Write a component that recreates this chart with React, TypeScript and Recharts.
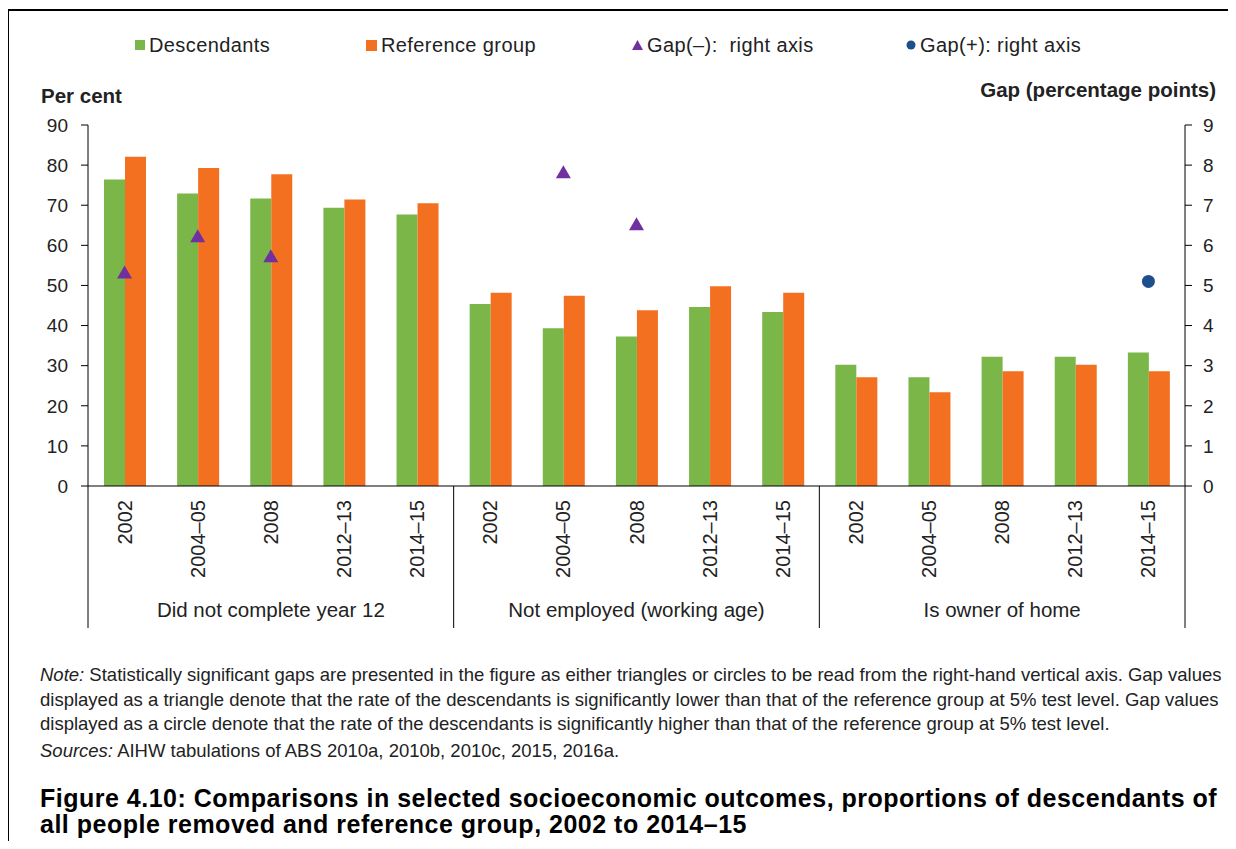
import { ComposedChart, Bar, Scatter, XAxis, YAxis } from 'recharts';

const groups = ['Did not complete year 12', 'Not employed (working age)', 'Is owner of home'];
const years = ['2002', '2004–05', '2008', '2012–13', '2014–15'];

// per cent, in order group by group, year by year
const descendants = [76.4, 72.9, 71.7, 69.4, 67.7, 45.4, 39.3, 37.3, 44.6, 43.4, 30.2, 27.1, 32.2, 32.2, 33.3];
const referenceGroup = [82.1, 79.3, 77.7, 71.4, 70.5, 48.2, 47.4, 43.8, 49.8, 48.2, 27.1, 23.4, 28.6, 30.2, 28.6];

// percentage points, right axis
const gapMinus = [5.3, 6.2, 5.7, null, null, null, 7.8, 6.5, null, null, null, null, null, null, null];
const gapPlus = [null, null, null, null, null, null, null, null, null, null, null, null, null, null, 5.1];

const leftTicks = [0, 10, 20, 30, 40, 50, 60, 70, 80, 90];
const rightTicks = [0, 1, 2, 3, 4, 5, 6, 7, 8, 9];

const data = groups.flatMap((group, gi) =>
  years.map((year, yi) => {
    const i = gi * years.length + yi;
    return {
      key: `${group}|${year}`,
      descendants: descendants[i],
      reference: referenceGroup[i],
      gapMinus: gapMinus[i],
      gapPlus: gapPlus[i]
    };
  })
);

const GREEN = '#7AB648';
const ORANGE = '#F37021';
const PURPLE = '#7030A0';
const NAVY = '#1F4E8C';
const TEXT = '#222';
const FONT = '"Liberation Sans", Arial, sans-serif';

const CategoryTick = (props: any) => {
  const { x, y, payload, index } = props;
  const half = payload?.offset || 36.5;
  const [group, year] = String(payload.value).split('|');
  const pos = index % years.length;
  return (
    <g>
      <text
        transform={`translate(${x + 7},${y + 14}) rotate(-90)`}
        textAnchor="end"
        fontSize={20}
        fill={TEXT}
        fontFamily={FONT}
      >
        {year}
      </text>
      {pos === 0 && <line x1={x - half} x2={x - half} y1={y} y2={y + 142} stroke="#000" />}
      {index === data.length - 1 && <line x1={x + half} x2={x + half} y1={y} y2={y + 142} stroke="#000" />}
      {pos === 2 && (
        <text x={x} y={y + 131} textAnchor="middle" fontSize={20.5} fill={TEXT} fontFamily={FONT}>
          {group}
        </text>
      )}
    </g>
  );
};

const Triangle = (props: any) => {
  const { cx, cy, payload } = props;
  if (payload?.gapMinus == null || cx == null || cy == null) return <g />;
  return <polygon points={`${cx},${cy - 8} ${cx - 7.5},${cy + 5} ${cx + 7.5},${cy + 5}`} fill={PURPLE} />;
};

const Dot = (props: any) => {
  const { cx, cy, payload } = props;
  if (payload?.gapPlus == null || cx == null || cy == null) return <g />;
  return <circle cx={cx} cy={cy} r={6.5} fill={NAVY} />;
};

const legendItems = [
  { label: 'Descendants', left: 135, mark: <span style={{ display: 'inline-block', width: 10, height: 10, background: GREEN }} /> },
  { label: 'Reference group', left: 366, mark: <span style={{ display: 'inline-block', width: 11, height: 11, background: ORANGE }} /> },
  {
    label: 'Gap(–):  right axis',
    left: 632,
    mark: (
      <svg width={11} height={10}>
        <polygon points="5.5,0 0,10 11,10" fill={PURPLE} />
      </svg>
    )
  },
  {
    label: 'Gap(+): right axis',
    left: 906,
    mark: (
      <svg width={10} height={10}>
        <circle cx={5} cy={5} r={4.5} fill={NAVY} />
      </svg>
    )
  }
];

export default function App() {
  return (
    <div
      style={{
        position: 'relative',
        width: 1236,
        height: 849,
        margin: -8,
        background: '#fff',
        overflow: 'hidden',
        fontFamily: FONT,
        color: TEXT
      }}
    >
      <div style={{ position: 'absolute', left: 7, top: 9, right: 0, height: 2, background: '#000' }} />
      <div style={{ position: 'absolute', left: 7, top: 9, bottom: 0, width: 2, background: '#000' }} />

      {legendItems.map((item) => (
        <div
          key={item.label}
          style={{
            position: 'absolute',
            left: item.left,
            top: 33,
            height: 24,
            display: 'flex',
            alignItems: 'center',
            gap: 4,
            fontSize: 20,
            letterSpacing: 0.4,
            whiteSpace: 'pre'
          }}
        >
          {item.mark}
          <span>{item.label}</span>
        </div>
      ))}

      <div style={{ position: 'absolute', left: 41, top: 84, fontSize: 20.5, fontWeight: 'bold' }}>Per cent</div>
      <div style={{ position: 'absolute', right: 20, top: 78, fontSize: 20.5, fontWeight: 'bold' }}>
        Gap (percentage points)
      </div>

      <div style={{ position: 'absolute', left: 0, top: 0 }}>
        <ComposedChart
          width={1236}
          height={650}
          data={data}
          margin={{ top: 125, right: 1, bottom: 0, left: 38 }}
          barGap={0}
        >
          <XAxis
            dataKey="key"
            type="category"
            interval={0}
            height={164}
            tickLine={false}
            tickSize={0}
            tickMargin={0}
            axisLine={{ stroke: '#000' }}
            tick={<CategoryTick />}
          />
          <YAxis
            yAxisId="left"
            domain={[0, 90]}
            ticks={leftTicks}
            width={50}
            tickSize={7}
            tickMargin={13}
            axisLine={{ stroke: '#000' }}
            tickLine={{ stroke: '#000' }}
            tick={{ fontSize: 19, fill: TEXT, fontFamily: FONT }}
          />
          <YAxis
            yAxisId="right"
            orientation="right"
            domain={[0, 9]}
            ticks={rightTicks}
            width={50}
            tickSize={7}
            tickMargin={11}
            axisLine={{ stroke: '#000' }}
            tickLine={{ stroke: '#000' }}
            tick={{ fontSize: 19, fill: TEXT, fontFamily: FONT }}
          />
          <Bar yAxisId="left" dataKey="descendants" fill={GREEN} barSize={21} isAnimationActive={false} />
          <Bar yAxisId="left" dataKey="reference" fill={ORANGE} barSize={21} isAnimationActive={false} />
          <Scatter yAxisId="right" dataKey="gapMinus" shape={<Triangle />} isAnimationActive={false} />
          <Scatter yAxisId="right" dataKey="gapPlus" shape={<Dot />} isAnimationActive={false} />
        </ComposedChart>
      </div>

      <div
        style={{
          position: 'absolute',
          left: 40,
          top: 663,
          fontSize: 18.5,
          lineHeight: '24.5px',
          whiteSpace: 'nowrap'
        }}
      >
        <div>
          <i>Note:</i> Statistically significant gaps are presented in the figure as either triangles or circles to be
          read from the right-hand vertical axis. Gap values
        </div>
        <div>
          displayed as a triangle denote that the rate of the descendants is significantly lower than that of the
          reference group at 5% test level. Gap values
        </div>
        <div>
          displayed as a circle denote that the rate of the descendants is significantly higher than that of the
          reference group at 5% test level.
        </div>
        <div style={{ marginTop: 2 }}>
          <i>Sources:</i> AIHW tabulations of ABS 2010a, 2010b, 2010c, 2015, 2016a.
        </div>
      </div>

      <div
        style={{
          position: 'absolute',
          left: 40,
          top: 785,
          fontSize: 25,
          letterSpacing: 0.5,
          fontWeight: 'bold',
          lineHeight: '26px',
          whiteSpace: 'nowrap',
          color: '#000'
        }}
      >
        <div>Figure 4.10: Comparisons in selected socioeconomic outcomes, proportions of descendants of</div>
        <div>all people removed and reference group, 2002 to 2014–15</div>
      </div>
    </div>
  );
}
